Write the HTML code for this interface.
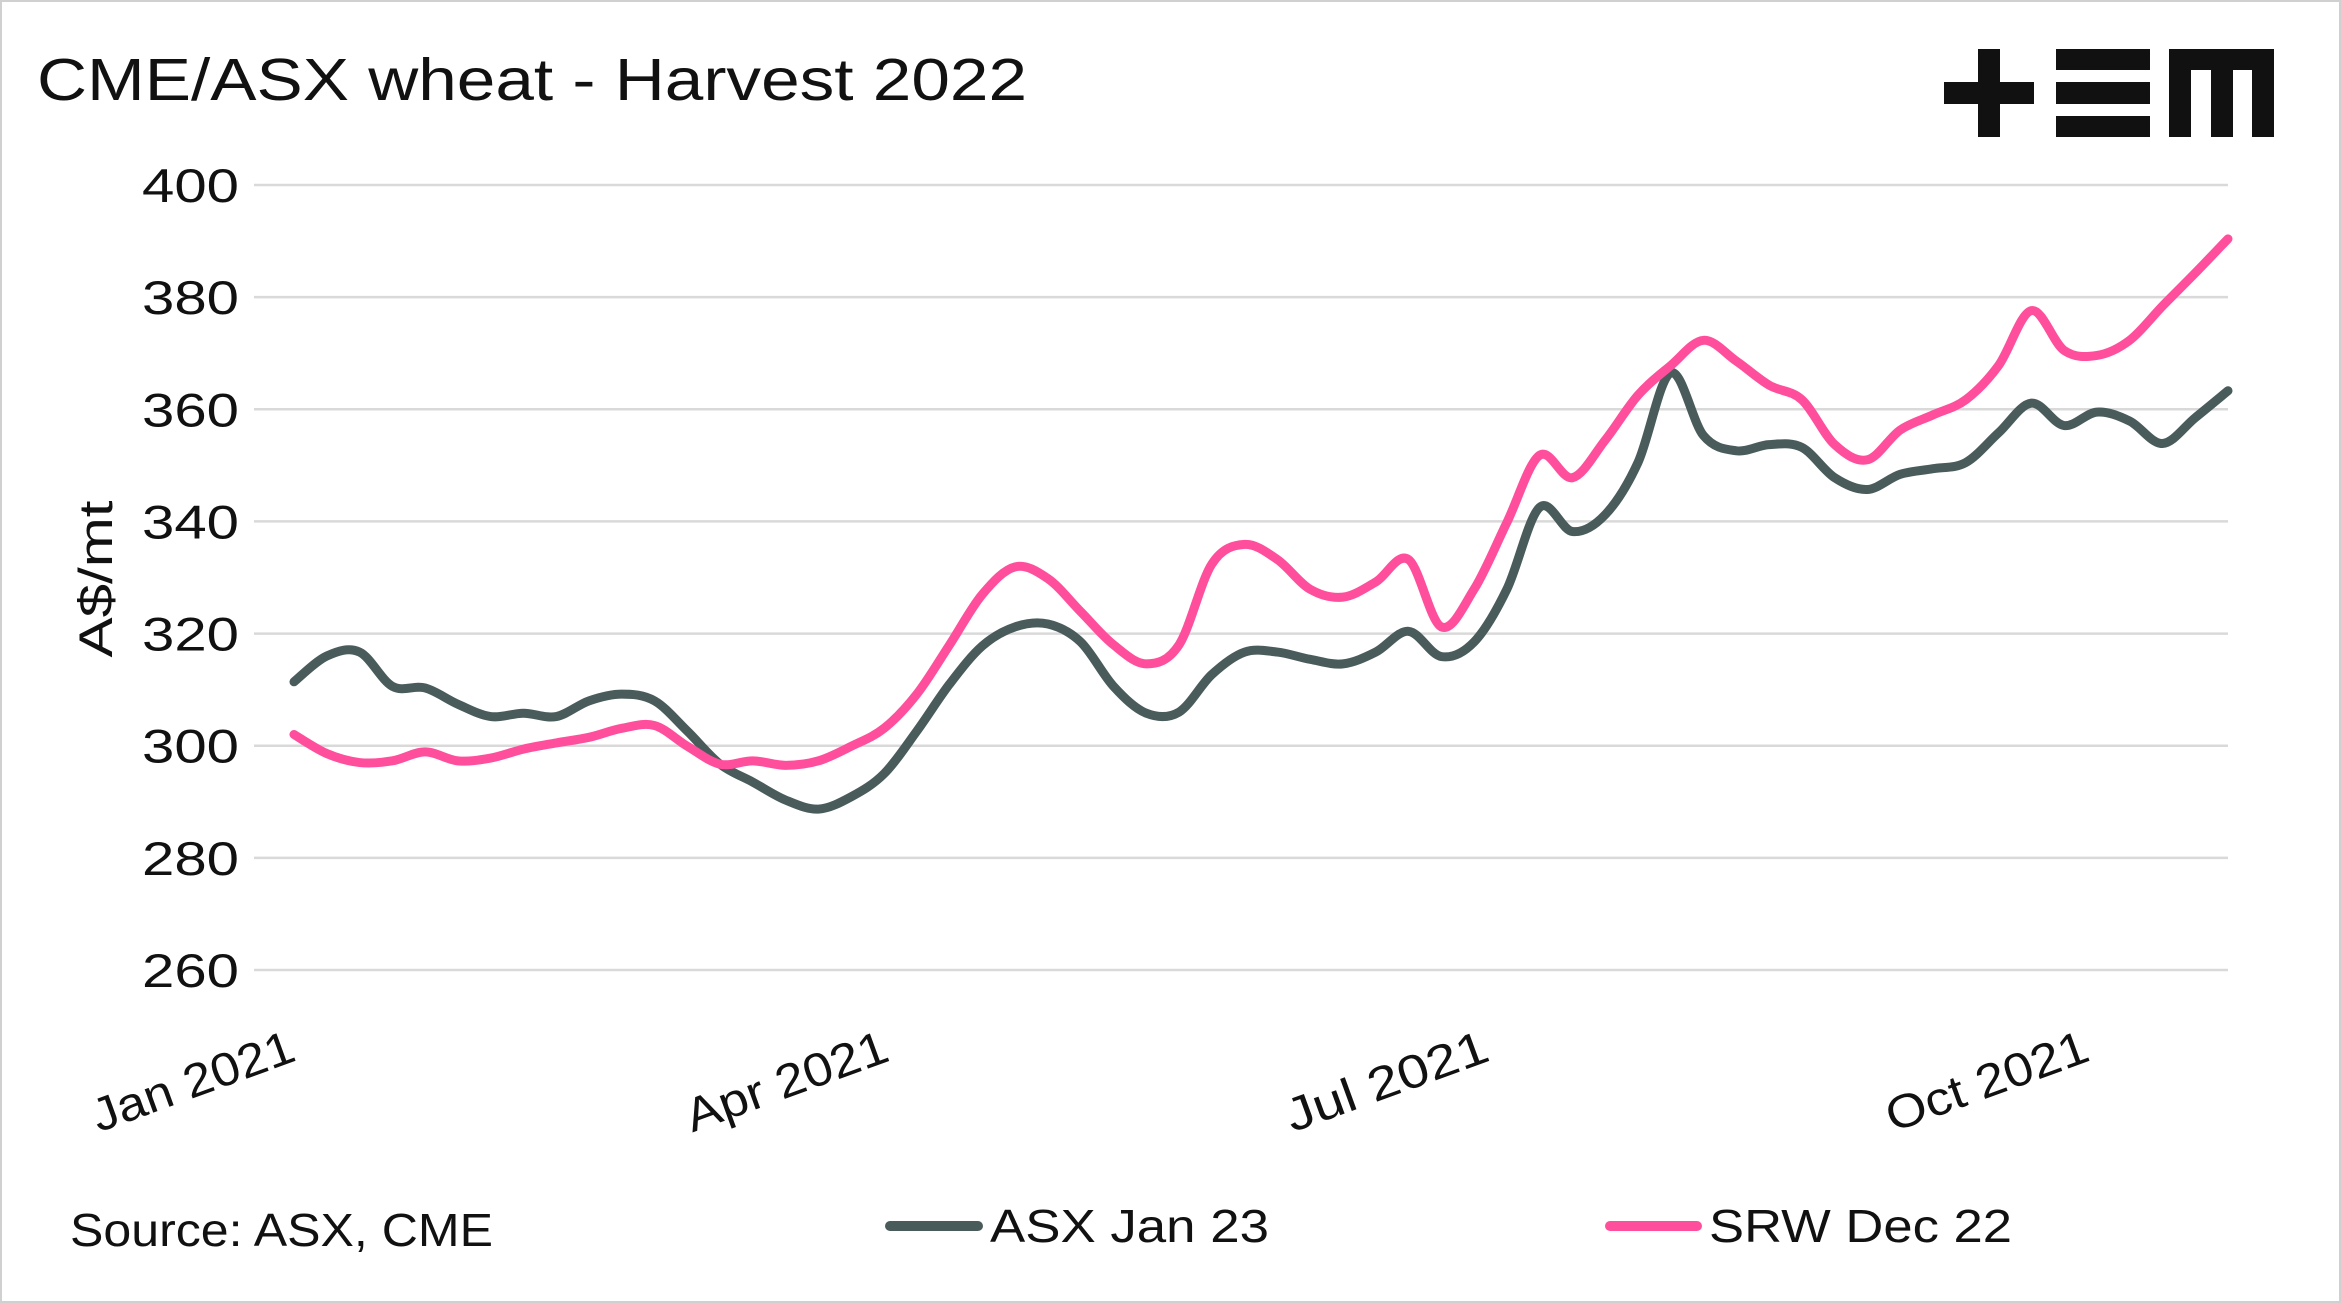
<!DOCTYPE html>
<html><head><meta charset="utf-8"><style>
html,body{margin:0;padding:0;background:#fff}
svg{display:block;font-family:"Liberation Sans",Arial,sans-serif}
</style></head><body>
<svg id="chart" width="2341" height="1303" viewBox="0 0 2341 1303" xmlns="http://www.w3.org/2000/svg">
<rect x="1" y="1" width="2339" height="1301" fill="#fff" stroke="#d0d0d0" stroke-width="2"/>
<text x="37" y="100" font-size="59" fill="#111" textLength="990" lengthAdjust="spacingAndGlyphs">CME/ASX wheat - Harvest 2022</text>
<g fill="#111">
<rect x="1944" y="82" width="90" height="22"/><rect x="1978" y="49" width="22" height="88"/>
<rect x="2056" y="49" width="94" height="21"/><rect x="2056" y="82" width="94" height="22"/><rect x="2056" y="116" width="94" height="21"/>
<rect x="2169" y="49" width="105" height="21"/><rect x="2169" y="49" width="22" height="88"/><rect x="2211" y="49" width="22" height="88"/><rect x="2252" y="49" width="22" height="88"/>
</g>
<g id="grid"></g>
<g id="yticks"></g>
<g id="xticks"></g>
<text transform="translate(112,579) rotate(-90)" text-anchor="middle" font-size="47" fill="#111" textLength="157" lengthAdjust="spacingAndGlyphs">A$/mt</text>
<g id="series"></g>
<text x="70" y="1246" font-size="46" fill="#111" textLength="423" lengthAdjust="spacingAndGlyphs">Source: ASX, CME</text>
<g>
<line x1="890" y1="1226" x2="978" y2="1226" stroke="#4a5b5b" stroke-width="10" stroke-linecap="round"/>
<text x="990" y="1242" font-size="46" fill="#111" textLength="279" lengthAdjust="spacingAndGlyphs">ASX Jan 23</text></g>
<g>
<line x1="1610" y1="1226" x2="1697" y2="1226" stroke="#ff4f9c" stroke-width="10" stroke-linecap="round"/>
<text x="1709" y="1242" font-size="46" fill="#111" textLength="303" lengthAdjust="spacingAndGlyphs">SRW Dec 22</text></g>
</svg>
<script>
const yTicks=[260,280,300,320,340,360,380,400];
const xTickLabels=["Jan 2021","Apr 2021","Jul 2021","Oct 2021"];
const xTickDays=[0,89,179,269];
const asx=[311.4,316,316.7,310.6,310.3,307.4,305.2,305.8,305.2,308,309.2,308,302.6,296.7,293.5,290.3,288.7,290.9,295,302.6,311,317.8,321.2,321.7,318.5,310.6,305.8,306,312.7,316.7,316.7,315.4,314.6,316.7,320.4,315.9,318.5,327.9,342.5,338.2,341.2,350.5,366.5,355.3,352.6,353.7,353.2,347.8,345.7,348.4,349.4,350.5,355.8,361.1,357.1,359.5,357.9,353.9,358.5,363.3];
const srw=[302,298.6,297,297.3,298.9,297.3,297.8,299.4,300.5,301.5,303.1,303.6,299.9,296.7,297.3,296.5,297.3,299.9,303.1,309.2,318,327,331.9,329.8,323.9,318,314.6,318,332.4,335.9,333.2,327.9,326.5,329.2,333.2,321.2,327.9,339.8,351.8,347.8,354.5,362.5,367.8,372.3,368.6,364.3,361.7,353.7,351,356.3,359,361.7,367.8,377.6,370.5,369.6,372.3,378.4,384.3,390.4];
const lastDay=290;
const X0=294,X1=2228,Y400=185,Y260=970;
const xDay=d=>X0+d*(X1-X0)/lastDay;
const yVal=v=>Y260-(v-260)*(Y260-Y400)/140;
const NS="http://www.w3.org/2000/svg";
const mk=(t,a)=>{const e=document.createElementNS(NS,t);for(const k in a)e.setAttribute(k,a[k]);return e;};
const grid=document.getElementById('grid'),yt=document.getElementById('yticks'),xt=document.getElementById('xticks'),ser=document.getElementById('series');
yTicks.forEach(v=>{
 const l=mk('line',{x1:X0-40,x2:X1,y1:yVal(v),y2:yVal(v),stroke:'#d9d9d9','stroke-width':2.5});
 
 
 grid.appendChild(l);
 const t=mk('text',{x:239,y:yVal(v)+17,'text-anchor':'end','font-size':47,fill:'#111',textLength:97,lengthAdjust:'spacingAndGlyphs'});
 t.textContent=v;
 
 
 yt.appendChild(t);
});
xTickLabels.forEach((s,i)=>{
 const x=xDay(xTickDays[i]);
 const t=mk('text',{transform:`translate(${x+4},${1060}) rotate(-20)`,'text-anchor':'end','font-size':47,fill:'#111',textLength:212,lengthAdjust:'spacingAndGlyphs'});
 t.textContent=s;
 
 
 xt.appendChild(t);
});
function path(vals){
 const n=vals.length;
 const p=vals.map((v,i)=>[xDay(i*lastDay/(n-1)),yVal(v)]);
 let d=`M${p[0][0]},${p[0][1]}`;
 for(let i=0;i<n-1;i++){
  const a=p[Math.max(0,i-1)],b=p[i],c=p[i+1],e=p[Math.min(n-1,i+2)];
  const c1=[b[0]+(c[0]-a[0])/6,b[1]+(c[1]-a[1])/6],c2=[c[0]-(e[0]-b[0])/6,c[1]-(e[1]-b[1])/6];
  d+=` C${c1[0]},${c1[1]} ${c2[0]},${c2[1]} ${c[0]},${c[1]}`;
 }
 return d;
}
const pa=mk('path',{d:path(asx),fill:'none',stroke:'#4a5b5b','stroke-width':9,'stroke-linejoin':'round','stroke-linecap':'round'});


ser.appendChild(pa);
const ps=mk('path',{d:path(srw),fill:'none',stroke:'#ff4f9c','stroke-width':9,'stroke-linejoin':'round','stroke-linecap':'round'});


ser.appendChild(ps);
</script>
</body></html>
